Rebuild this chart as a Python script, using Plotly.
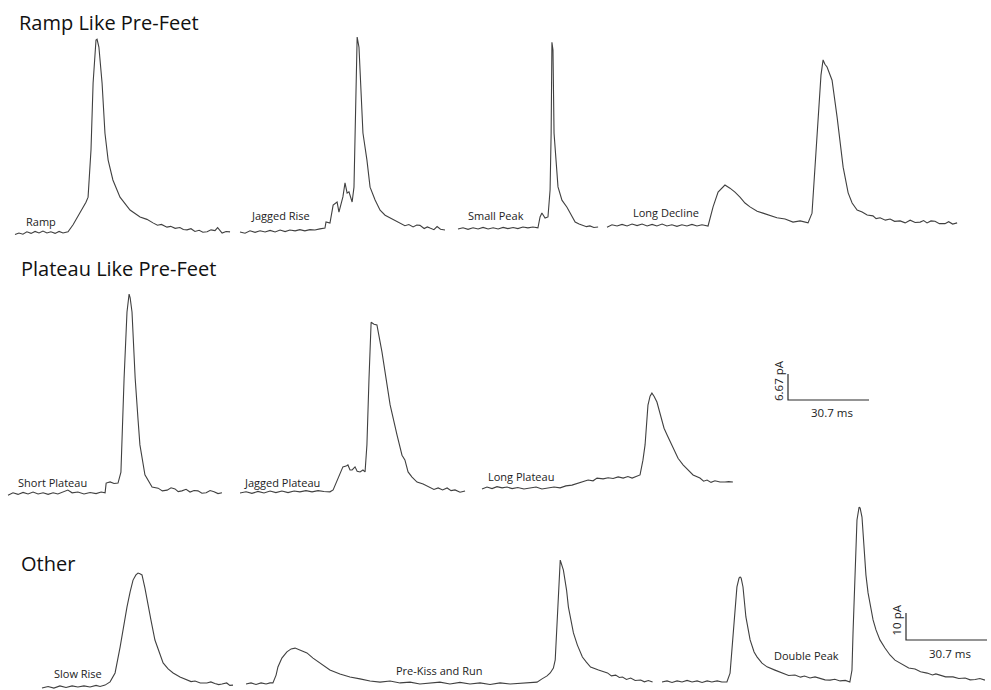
import plotly.graph_objects as go

# ---------------- data: time (ms) relative to trace start, current (pA) above baseline
RAMP_T = [0, 1.5, 3.0, 4.5, 6.1, 7.6, 9.1, 10.6, 12.1, 13.6, 15.2, 16.7, 18.2, 20.1, 22.0, 24.6, 26.9, 27.7, 28.8, 29.6, 30.7, 31.1, 31.8, 33.0, 34.1, 35.3, 37.1, 39.8, 43.6, 47.4, 50.0, 52.3, 54.0, 55.5, 57.6, 59.0, 60.7, 62.5, 63.8, 65.2, 66.7, 68.2, 69.8, 71.2, 72.8, 74.3, 75.8, 76.8, 78.5, 80.0, 81.5]
RAMP_I = [-0.4, 0, -0.3, 0.3, -0.1, 0.4, 0, 0.5, 0, 0.3, -0.1, 0.4, 0, 0.3, 2.1, 5.1, 7.9, 9.2, 21.3, 38.5, 49.5, 49.7, 47.7, 38.5, 25.6, 18.7, 13.6, 9.2, 5.9, 4.1, 3.5, 2.6, 2.0, 2.2, 1.5, 1.7, 1.2, 1.4, 0.9, 0.8, 1.1, 0.4, 0.7, 0.2, 0.3, 0.8, 0.6, 1.4, 0, 0.4, 0.3]

JAGRISE_T = [0, 1.9, 3.8, 5.7, 7.6, 9.5, 11.4, 13.3, 15.2, 17.1, 18.9, 20.9, 22.7, 24.6, 26.5, 28.4, 30.3, 32.2, 32.6, 34.1, 35.3, 36.8, 37.5, 39.0, 39.8, 40.6, 41.3, 42.5, 43.2, 44.0, 44.4, 45.1, 45.9, 46.6, 48.1, 49.3, 51.2, 53.1, 55.0, 56.9, 58.8, 60.7, 62.5, 64.0, 65.6, 67.0, 68.2, 69.8, 71.0, 72.0, 73.5, 74.7, 76.0, 77.7]
JAGRISE_I = [0, -0.3, 0.3, -0.1, 0.3, 0, 0.4, 0, 0.5, 0.1, 0.5, 0.3, 0.6, 0.3, 0.6, 0.5, 0.8, 1.0, 2.6, 2.3, 6.9, 7.7, 5.1, 9.0, 12.6, 10.0, 10.3, 7.7, 11.5, 34.1, 50.0, 47.4, 33.8, 25.4, 18.5, 11.5, 8.2, 5.6, 4.3, 3.6, 3.0, 2.3, 1.6, 1.9, 1.3, 1.8, 1.7, 0.9, 1.3, 1.0, 0.6, 1.4, 0.7, 0.5]

SMALLPK_T = [0, 1.9, 3.8, 5.7, 7.6, 9.5, 11.4, 13.3, 15.2, 17.1, 18.9, 20.9, 22.7, 24.6, 26.5, 28.4, 30.3, 31.1, 31.8, 33.0, 34.1, 34.9, 35.3, 35.6, 36.0, 36.4, 37.9, 39.4, 41.3, 42.5, 44.4, 45.9, 47.4, 48.7, 50.0, 51.5, 53.1]
SMALLPK_I = [0, 0.3, -0.1, 0.3, 0, 0.4, 0, 0.3, 0, 0.4, 0.1, 0.4, 0.1, 0.5, 0.3, 0.5, 0.3, 3.1, 4.1, 2.8, 3.1, 10.0, 24.6, 47.9, 45.9, 24.6, 10.8, 7.4, 5.6, 4.1, 1.8, 1.3, 1.0, 0.6, 0.8, 0.4, 0.5]

LONGDEC_T = [0, 1.9, 3.8, 5.7, 7.6, 9.5, 11.4, 13.3, 15.2, 17.1, 18.9, 20.9, 22.7, 24.6, 26.5, 28.4, 30.3, 32.2, 34.1, 36.0, 38.3, 40.2, 42.1, 44.7, 46.6, 48.5, 50.4, 52.3, 54.2, 56.9, 59.1, 61.8, 64.4, 67.5, 70.5, 73.2, 76.2, 77.7, 78.8, 80.4, 81.1, 81.9, 82.6, 83.4, 85.3, 87.2, 89.5, 91.4, 92.9, 94.8, 96.7, 98.6, 100.8, 102.0, 103.5, 105.5, 107.3, 109.0, 111.1, 113.0, 114.9, 116.8, 118.7, 120.0, 121.3, 122.8, 124.3, 126.0, 128.1, 129.5, 131.0, 132.7]
LONGDEC_I = [-0.3, 0.3, 0, 0.4, 0, 0.5, 0.1, 0.5, 0, 0.4, 0, 0.5, 0, 0.3, -0.1, 0.3, 0, 0.4, 0, 0.3, 0, 4.9, 8.7, 10.5, 9.7, 8.7, 7.4, 5.9, 4.9, 3.8, 3.3, 2.6, 2.1, 1.8, 1.0, 1.3, 0.8, 3.3, 15.1, 32.3, 38.7, 42.6, 41.5, 40.8, 37.4, 28.0, 15.1, 8.5, 5.9, 4.1, 3.6, 2.8, 2.6, 1.9, 2.1, 1.5, 1.8, 1.2, 1.3, 0.8, 1.5, 0.9, 1.0, 1.4, 0.8, 1.3, 1.2, 0.6, 0.6, 1.1, 0.5, 0.8]

SHORTPL_T = [0, 1.9, 3.8, 5.7, 7.6, 9.5, 11.4, 13.3, 15.2, 17.1, 18.9, 20.9, 22.7, 24.3, 26.5, 28.8, 31.1, 33.4, 35.3, 36.8, 37.2, 38.7, 40.2, 41.7, 42.8, 44.0, 45.1, 45.9, 46.3, 47.0, 48.2, 49.3, 50.0, 51.9, 54.6, 56.9, 58.5, 60.3, 61.8, 63.3, 64.5, 65.9, 67.5, 69.0, 70.5, 72.0, 73.5, 75.1, 76.6, 78.1, 79.6, 81.1]
SHORTPL_I = [-0.3, 0.3, -0.1, 0.4, 0, 0.5, 0, 0.3, -0.1, 0.3, 0, 0.5, 1.0, 0.3, 0.5, 0, 0.4, 0.1, 0.5, 0.3, 2.8, 3.1, 2.7, 2.8, 5.6, 29.7, 46.7, 51.3, 50.3, 46.7, 29.7, 19.0, 12.6, 4.9, 1.8, 1.5, 0.8, 1.0, 1.6, 1.3, 0.6, 0.8, 1.2, 0.5, 0.9, 0.8, 0.2, 0.3, 0.9, 0.6, 0.1, 0.3]

JAGPL_T = [0, 2.3, 4.5, 6.8, 9.1, 11.4, 13.6, 15.9, 18.2, 20.5, 22.7, 25.0, 27.3, 29.6, 31.8, 34.1, 35.3, 37.1, 39.0, 40.2, 40.9, 41.7, 42.5, 43.6, 44.4, 45.5, 46.6, 47.4, 48.1, 48.9, 49.7, 50.8, 51.9, 53.8, 55.7, 56.9, 59.5, 61.4, 62.5, 63.7, 65.2, 67.1, 69.4, 72.0, 73.5, 75.1, 76.8, 78.5, 80.0, 81.5, 83.4, 85.3]
JAGPL_I = [0, 0.3, -0.1, 0.4, 0, 0.5, 0.1, 0.5, 0.1, 0.5, 0.3, 0.6, 0.3, 0.6, 0.4, 0.3, 0.8, 3.8, 6.7, 6.9, 7.2, 5.9, 5.9, 6.7, 5.6, 5.4, 5.9, 5.4, 12.3, 29.5, 43.8, 43.3, 43.1, 36.2, 27.7, 22.6, 14.9, 9.7, 8.5, 5.4, 4.1, 2.8, 2.3, 1.5, 0.9, 1.3, 0.8, 1.3, 0.6, 0.8, 0.2, 0.5]

LONGPL_T = [0, 1.9, 3.8, 5.7, 7.6, 9.5, 11.4, 13.6, 15.9, 18.2, 20.5, 22.7, 25.0, 27.3, 29.6, 31.8, 34.1, 36.4, 38.3, 40.2, 42.1, 43.6, 45.9, 47.8, 49.7, 51.6, 53.5, 55.3, 56.9, 58.4, 59.9, 61.0, 61.8, 62.9, 63.7, 64.4, 65.2, 66.3, 67.5, 69.0, 70.2, 72.4, 74.3, 76.2, 78.1, 80.0, 82.6, 84.0, 85.3, 86.8, 88.3, 90.2, 92.1, 93.5, 95.1]
LONGPL_I = [0, 0.5, 0.1, 0.6, 0.3, 0.5, 0.1, 0.4, 0, 0.3, 0.5, 0, 0.3, 0.5, 0.3, 0.8, 1.0, 1.5, 1.8, 2.3, 2.1, 2.8, 2.6, 2.9, 2.7, 3.1, 2.8, 3.2, 2.8, 3.1, 3.6, 7.4, 11.3, 21.5, 23.8, 24.6, 23.8, 22.3, 19.0, 15.6, 13.8, 10.5, 7.9, 6.2, 4.9, 3.6, 2.8, 2.0, 2.3, 1.7, 2.1, 1.8, 1.8, 1.9, 1.8]

SLOWRISE_T = [0, 2.3, 4.5, 6.8, 9.1, 11.4, 13.6, 15.9, 18.2, 20.5, 22.0, 23.9, 25.8, 27.7, 29.6, 31.1, 32.2, 33.4, 34.5, 35.6, 36.4, 37.1, 37.9, 39.0, 39.8, 41.3, 42.8, 44.4, 45.9, 47.8, 49.7, 52.3, 55.0, 56.5, 58.0, 60.0, 62.5, 64.0, 65.5, 67.0, 68.2, 70.0, 71.2, 72.4]
SLOWRISE_I = [-0.4, 0.2, -0.4, 0.4, -0.2, 0.4, 0, 0.4, 0, 0.6, 0.2, 0.7, 1.9, 5.2, 14.8, 24.1, 29.6, 35.2, 39.6, 41.5, 42.2, 41.9, 41.5, 36.7, 32.2, 24.8, 17.4, 13.0, 8.9, 6.7, 5.2, 3.7, 2.6, 2.0, 2.2, 1.5, 1.5, 1.9, 1.3, 0.9, 1.1, 1.5, 0.6, 0.7]

KISSRUN_T = [0, 1.9, 3.8, 5.7, 7.6, 9.1, 10.2, 11.4, 12.1, 13.6, 15.5, 17.1, 18.6, 20.5, 23.1, 25.4, 28.1, 29.9, 31.8, 35.6, 39.4, 43.2, 47.0, 50.8, 54.6, 58.4, 62.2, 65.9, 69.7, 73.5, 77.3, 81.1, 84.9, 88.7, 92.5, 96.3, 100.1, 103.9, 107.7, 110.3, 112.2, 114.1, 115.3, 116.5, 117.2, 118.4, 119.1, 120.3, 121.5, 122.2, 123.4, 124.1, 125.6, 127.5, 129.0, 130.6, 133.6, 137.0, 138.5, 140.1, 141.5, 142.7, 144.2, 145.8, 147.5, 149.6, 151.0, 152.5, 154.1]
KISSRUN_I = [0, 0.4, -0.2, 0.4, 0, 0.4, 0.4, 3.3, 6.3, 9.6, 11.9, 13.0, 13.3, 12.6, 11.5, 9.6, 7.8, 6.7, 5.2, 3.7, 2.6, 1.9, 1.1, 0.7, 1.1, 0.4, 0.7, 0, 0.4, 0.7, 0, 0.6, 0, 0.4, -0.2, 0.4, 0, 0.2, 0.4, 0.7, 1.9, 3.0, 4.1, 5.9, 8.9, 31.1, 45.9, 42.2, 34.8, 28.5, 22.6, 18.9, 14.4, 10.0, 8.1, 6.3, 5.2, 4.1, 3.0, 3.3, 2.4, 2.6, 1.7, 2.2, 1.3, 1.5, 0.8, 1.3, 0.7]

DOUBLEPK_T = [0, 1.9, 3.8, 5.7, 7.6, 9.5, 11.4, 13.3, 15.2, 17.1, 18.9, 20.9, 22.7, 24.6, 25.8, 26.5, 27.3, 28.4, 29.2, 29.6, 30.0, 30.7, 31.8, 32.6, 33.4, 34.9, 36.0, 37.9, 39.8, 42.8, 45.9, 48.0, 50.4, 52.5, 54.0, 56.1, 58.0, 59.9, 61.8, 63.7, 65.5, 67.5, 69.5, 71.2, 72.0, 72.4, 73.2, 73.9, 74.7, 75.1, 75.8, 76.6, 77.3, 78.1, 80.0, 81.1, 82.6, 84.5, 86.4, 88.3, 91.3, 93.5, 95.9, 98.0, 100.5, 102.5, 103.8, 105.4, 107.5, 110.3, 112.5, 114.9, 116.8, 118.7, 120.5, 122.4]
DOUBLEPK_I = [0, 0.4, -0.2, 0.4, 0, 0.6, 0, 0.4, -0.2, 0.4, 0, 0.4, 0, 0, 3.3, 11.9, 24.1, 35.2, 38.5, 38.9, 38.5, 35.2, 24.1, 19.3, 15.6, 11.1, 9.3, 7.0, 5.6, 4.4, 3.3, 2.4, 2.6, 1.8, 2.2, 1.5, 1.9, 1.3, 0.8, 0.7, 1.0, 0.4, 0.6, 0, 4.4, 18.1, 42.6, 60.0, 64.8, 64.4, 61.1, 48.9, 39.6, 33.0, 23.0, 19.3, 15.6, 12.6, 10.0, 8.1, 6.3, 5.2, 4.8, 3.8, 3.3, 2.6, 3.0, 2.6, 1.9, 1.9, 1.3, 1.5, 0.8, 0.9, 1.3, 0.7]

GROUP_TITLES = ["Ramp Like Pre-Feet", "Plateau Like Pre-Feet", "Other"]
SCALE_TIME_MS = [30.7, 30.7]
SCALE_CURRENT_PA = [6.67, 10]

# ---------------- layout (pixel geometry of the 991 x 690 page)
W, H = 991, 690
PX_PER_MS = 81 / 30.7
PX_PER_PA = [26 / 6.67, 27 / 10]   # rows 1-2 use index 0, row 3 index 1

# t, i, label, start x px, baseline y px, scale index, label x, label y
TRACES = [
    (RAMP_T, RAMP_I, "Ramp", 15, 233, 0, 24, 222),
    (JAGRISE_T, JAGRISE_I, "Jagged Rise", 240, 232, 0, 249, 216),
    (SMALLPK_T, SMALLPK_I, "Small Peak", 458, 229, 0, 466, 216),
    (LONGDEC_T, LONGDEC_I, "Long Decline", 607, 226, 0, 631, 212),
    (SHORTPL_T, SHORTPL_I, "Short Plateau", 8, 494, 0, 16, 483),
    (JAGPL_T, JAGPL_I, "Jagged Plateau", 240, 493, 0, 242, 482),
    (LONGPL_T, LONGPL_I, "Long Plateau", 482, 489, 0, 486, 476),
    (SLOWRISE_T, SLOWRISE_I, "Slow Rise", 42, 687, 1, 52, 673),
    (KISSRUN_T, KISSRUN_I, "Pre-Kiss and Run", 246, 684, 1, 394, 670),
    (DOUBLEPK_T, DOUBLEPK_I, "Double Peak", 662, 682, 1, 772, 655),
]
TITLE_POS = [(17, 23), (19, 268), (19, 563)]
SCALEBAR_POS = [(788, 400, 0), (906, 640, 1)]

LINE = dict(color="#404040", width=1.1)
FONT = "Open Sans"

fig = go.Figure()
yref = ["y", "y2"]

for t, cur, label, x0, base, s, lx, ly in TRACES:
    t0 = x0 / PX_PER_MS
    b0 = (H - base) / PX_PER_PA[s]
    fig.add_trace(go.Scatter(
        x=[t0 + v for v in t], y=[b0 + v for v in cur],
        mode="lines", line=LINE, yaxis=yref[s], hoverinfo="skip", name=label))
    fig.add_annotation(text=label, x=lx / W, y=1 - ly / H, xref="paper", yref="paper",
                       xanchor="left", yanchor="middle", showarrow=False,
                       font=dict(family=FONT, size=11, color="#222222"))

for (cx, cy, s), ms, pa in zip(SCALEBAR_POS, SCALE_TIME_MS, SCALE_CURRENT_PA):
    t0 = cx / PX_PER_MS
    b0 = (H - cy) / PX_PER_PA[s]
    fig.add_trace(go.Scatter(
        x=[t0, t0, t0 + ms], y=[b0 + pa, b0, b0], mode="lines",
        line=dict(color="#2a2a2a", width=1.2), yaxis=yref[s], hoverinfo="skip"))
    bar_h = pa * PX_PER_PA[s]
    fig.add_annotation(text=f"{pa:g} pA", x=(cx - 10) / W, y=1 - (cy - bar_h / 2 - 6) / H,
                       xref="paper", yref="paper", textangle=-90, showarrow=False,
                       xanchor="center", yanchor="middle",
                       font=dict(family=FONT, size=11.5, color="#222222"))
    fig.add_annotation(text=f"{ms:g} ms", x=(cx + ms * PX_PER_MS / 2 + 3) / W, y=1 - (cy + 13) / H,
                       xref="paper", yref="paper", showarrow=False,
                       xanchor="center", yanchor="middle",
                       font=dict(family=FONT, size=11.5, color="#222222"))

for title, (tx, ty) in zip(GROUP_TITLES, TITLE_POS):
    fig.add_annotation(text=title, x=tx / W, y=1 - ty / H, xref="paper", yref="paper",
                       xanchor="left", yanchor="middle", showarrow=False,
                       font=dict(family=FONT, size=20, color="#111111"))

fig.update_layout(
    width=W, height=H, margin=dict(l=0, r=0, t=0, b=0),
    paper_bgcolor="white", plot_bgcolor="white", showlegend=False,
    xaxis=dict(range=[0, W / PX_PER_MS], visible=False, domain=[0, 1]),
    yaxis=dict(range=[0, H / PX_PER_PA[0]], visible=False, domain=[0, 1]),
    yaxis2=dict(range=[0, H / PX_PER_PA[1]], visible=False, overlaying="y", domain=[0, 1]),
)

fig.write_html("out.html")
